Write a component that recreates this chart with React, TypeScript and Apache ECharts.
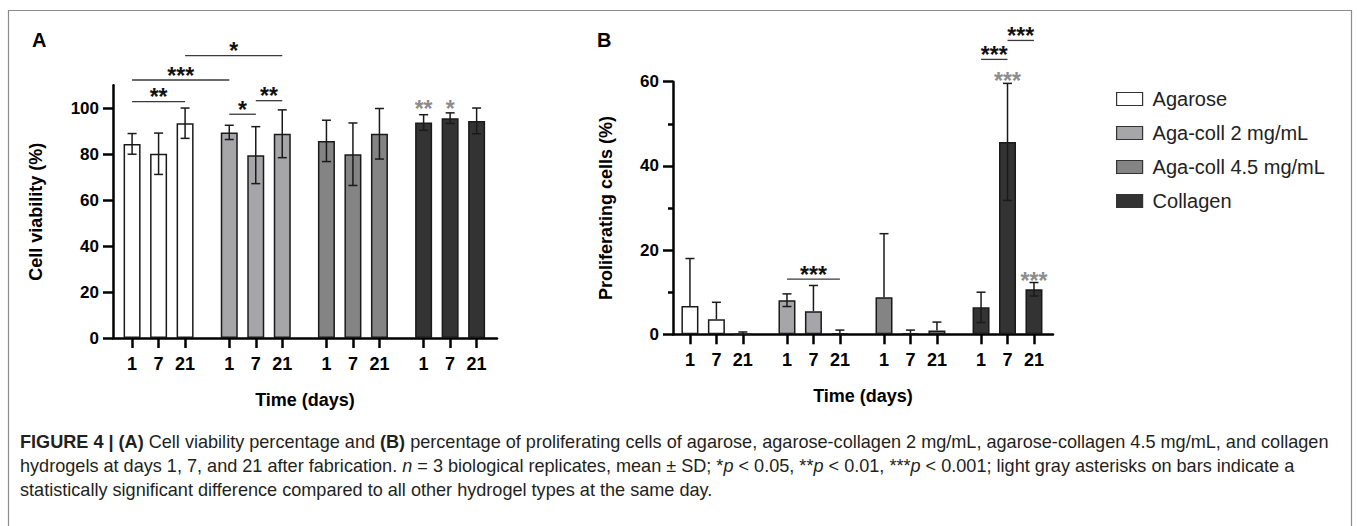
import React, { useEffect, useRef } from "react";
import * as echarts from "echarts";

const groups = ["Agarose", "Aga-coll 2 mg/mL", "Aga-coll 4.5 mg/mL", "Collagen"];
const days = ["1", "7", "21"];
const groupColors = ["#ffffff", "#a6a6a9", "#848484", "#333333"];

// Panel A: cell viability (%), mean and SD per group x day
const viabilityMean = [
  [84.5, 80.2, 93.5],
  [89.5, 79.6, 88.9],
  [85.8, 80.0, 88.9],
  [93.8, 95.7, 94.5],
];
const viabilitySD = [
  [4.5, 9.0, 6.6],
  [3.1, 12.4, 10.4],
  [9.0, 13.6, 11.0],
  [3.4, 2.3, 5.6],
];
// Panel B: proliferating cells (%)
const prolifMean = [
  [6.7, 3.6, 0.05],
  [8.1, 5.5, 0.3],
  [8.8, 0.3, 0.9],
  [6.4, 45.7, 10.7],
];
const prolifSD = [
  [11.3, 4.0, 0.5],
  [1.5, 6.1, 0.7],
  [15.1, 0.7, 2.0],
  [3.6, 13.9, 1.6],
];

// significance brackets: [from bar index, to bar index, y value], labels
const sigA = [
  [0, 2, 102.9],
  [0, 3, 112.3],
  [2, 5, 122.9],
  [3, 4, 97.4],
  [4, 5, 103.3],
];
const sigALabels = ["**", "***", "*", "*", "**"];
const grayA = [
  [9, 101.9],
  [10, 101.9],
];
const grayALabels = ["**", "*"];

const sigB = [
  [3, 5, 13.1],
  [9, 10, 65.3],
  [10, 11, 69.8],
];
const sigBLabels = ["***", "***", "***"];
const grayB = [
  [10, 61.4],
  [11, 13.9],
];
const grayBLabels = ["***", "***"];

const yTicksA = [0, 20, 40, 60, 80, 100];
const yTicksB = [0, 20, 40, 60];

const GROUP_STEP = 3.667;
const barPos = (i: number) => Math.floor(i / 3) * GROUP_STEP + (i % 3);
const positions = Array.from({ length: 12 }, (_, i) => barPos(i));

const FONT = "'Liberation Sans', Arial, Helvetica, sans-serif";

function dayLabel(v: number) {
  const i = positions.findIndex((p) => Math.abs(p - v) < 1e-6);
  return i >= 0 ? days[i % 3] : "";
}

function makeXAxis(gridIndex: number, min: number, max: number) {
  return {
    gridIndex,
    type: "value",
    min,
    max,
    axisLine: { show: true, onZero: false, lineStyle: { color: "#000", width: 2.5 } },
    axisTick: {
      show: true,
      customValues: positions,
      length: 10,
      lineStyle: { color: "#000", width: 2.5 },
    },
    axisLabel: {
      show: true,
      customValues: positions,
      formatter: (v: number) => dayLabel(v),
      fontSize: 18,
      fontWeight: "bold",
      color: "#000",
      fontFamily: FONT,
      margin: 17,
    },
    splitLine: { show: false },
    name: "Time (days)",
    nameLocation: "middle",
    nameGap: 53,
    nameTextStyle: { fontSize: 18, fontWeight: "bold", color: "#000", fontFamily: FONT },
  };
}

function makeYAxis(gridIndex: number, max: number, ticks: number[], name: string, nameGap: number, minor: boolean) {
  return {
    gridIndex,
    type: "value",
    min: 0,
    max,
    interval: 20,
    axisLine: { show: true, onZero: false, lineStyle: { color: "#000", width: 2.5 } },
    axisTick: { show: true, customValues: ticks, length: 10, lineStyle: { color: "#000", width: 2.5 } },
    minorTick: { show: minor, splitNumber: 2, length: 5, lineStyle: { color: "#000", width: 2.5 } },
    axisLabel: {
      show: true,
      customValues: ticks,
      fontSize: 17,
      fontWeight: "bold",
      color: "#000",
      fontFamily: FONT,
      margin: 14,
    },
    splitLine: { show: false },
    minorSplitLine: { show: false },
    name,
    nameLocation: "middle",
    nameGap,
    nameTextStyle: { fontSize: 18, fontWeight: "bold", color: "#000", fontFamily: FONT },
  };
}

function barSeries(idx: number, means: number[][]) {
  return groups.map((g, gi) => ({
    type: "bar",
    name: g,
    xAxisIndex: idx,
    yAxisIndex: idx,
    barWidth: 17,
    barGap: "-100%",
    z: 2,
    itemStyle: { color: groupColors[gi], borderColor: "#1a1a1a", borderWidth: 1.5 },
    data: means[gi].map((m, d) => [barPos(gi * 3 + d), m]),
  }));
}

function errorSeries(idx: number, means: number[][], sds: number[][]) {
  const data: number[][] = [];
  means.forEach((row, gi) => row.forEach((m, d) => data.push([barPos(gi * 3 + d), m, sds[gi][d]])));
  return {
    type: "custom",
    name: "err" + idx,
    xAxisIndex: idx,
    yAxisIndex: idx,
    z: 4,
    clip: false,
    encode: { x: 0, y: 1 },
    data,
    renderItem: (params: any, api: any) => {
      const x = api.value(0);
      const m = api.value(1);
      const sd = api.value(2);
      const top = api.coord([x, m + sd]);
      const mid = api.coord([x, m]);
      const lowV = m - sd;
      const low = lowV >= 0 ? api.coord([x, lowV]) : null;
      const st = { stroke: "#1a1a1a", lineWidth: 1.5 };
      const half = 4.5;
      const children: any[] = [
        { type: "line", shape: { x1: top[0], y1: top[1], x2: top[0], y2: low ? low[1] : mid[1] }, style: st },
        { type: "line", shape: { x1: top[0] - half, y1: top[1], x2: top[0] + half, y2: top[1] }, style: st },
      ];
      if (low) {
        children.push({ type: "line", shape: { x1: low[0] - half, y1: low[1], x2: low[0] + half, y2: low[1] }, style: st });
      }
      return { type: "group", children };
    },
  };
}

const STAR_SIZE = 23;

function bracketSeries(idx: number, sig: number[][], labels: string[]) {
  return {
    type: "custom",
    name: "sig" + idx,
    xAxisIndex: idx,
    yAxisIndex: idx,
    z: 5,
    clip: false,
    encode: { x: [0, 1], y: 2 },
    data: sig.map((s) => [barPos(s[0]), barPos(s[1]), s[2]]),
    renderItem: (params: any, api: any) => {
      const a = api.coord([api.value(0), api.value(2)]);
      const b = api.coord([api.value(1), api.value(2)]);
      return {
        type: "group",
        children: [
          { type: "line", shape: { x1: a[0], y1: a[1], x2: b[0], y2: b[1] }, style: { stroke: "#3a3a3a", lineWidth: 1.3 } },
          {
            type: "text",
            x: (a[0] + b[0]) / 2,
            y: a[1] - 4.5,
            style: {
              text: labels[params.dataIndex],
              fontSize: STAR_SIZE,
              fontWeight: "bold",
              fontFamily: FONT,
              fill: "#111",
              align: "center",
              verticalAlign: "middle",
            },
          },
        ],
      };
    },
  };
}

function graySeries(idx: number, pts: number[][], labels: string[]) {
  return {
    type: "custom",
    name: "gray" + idx,
    xAxisIndex: idx,
    yAxisIndex: idx,
    z: 5,
    clip: false,
    encode: { x: 0, y: 1 },
    data: pts.map((p) => [barPos(p[0]), p[1]]),
    renderItem: (params: any, api: any) => {
      const c = api.coord([api.value(0), api.value(1)]);
      return {
        type: "text",
        x: c[0],
        y: c[1] + 5,
        style: {
          text: labels[params.dataIndex],
          fontSize: STAR_SIZE,
          fontWeight: "bold",
          fontFamily: FONT,
          fill: "#8c8c8c",
          align: "center",
          verticalAlign: "middle",
        },
      };
    },
  };
}

export default function App() {
  const ref = useRef<HTMLDivElement>(null);
  useEffect(() => {
    if (!ref.current) return;
    const chart = echarts.init(ref.current, undefined, { renderer: "svg" });
    const CAP = 18.1;
    const captionStyle = { fontSize: CAP, fontFamily: FONT, fill: "#231f20" };
    const rich = {
      b: { fontSize: CAP, fontFamily: FONT, fontWeight: "bold", fill: "#231f20" },
      i: { fontSize: CAP, fontFamily: FONT, fontStyle: "italic", fill: "#231f20" },
    };
    chart.setOption({
      animation: false,
      backgroundColor: "#ffffff",
      grid: [
        { left: 113, top: 85.3, width: 384, height: 252.7 },
        { left: 673, top: 81.7, width: 380, height: 252.6 },
      ],
      xAxis: [makeXAxis(0, -0.72, 13.77), makeXAxis(1, -0.64, 13.72)],
      yAxis: [
        makeYAxis(0, 110, yTicksA, "Cell viability (%)", 68, false),
        makeYAxis(1, 60, yTicksB, "Proliferating cells (%)", 58, true),
      ],
      legend: {
        orient: "vertical",
        left: 1111,
        top: 84,
        icon: "rect",
        itemWidth: 26,
        itemHeight: 13,
        itemGap: 14,
        selectedMode: false,
        textStyle: { fontSize: 20, color: "#222", fontFamily: FONT, padding: [0, 0, 0, 5] },
        data: groups.map((g, gi) => ({
          name: g,
          itemStyle: { color: groupColors[gi], borderColor: "#333", borderWidth: 1.2 },
        })),
      },
      graphic: [
        {
          type: "rect",
          shape: { x: 8.5, y: 10.5, width: 1343, height: 560 },
          style: { fill: "none", stroke: "#8c8c8c", lineWidth: 1.2 },
          silent: true,
        },
        { type: "text", x: 32, y: 40, style: { text: "A", fontSize: 20, fontWeight: "bold", fontFamily: FONT, fill: "#000", verticalAlign: "middle" } },
        { type: "text", x: 597, y: 40, style: { text: "B", fontSize: 20, fontWeight: "bold", fontFamily: FONT, fill: "#000", verticalAlign: "middle" } },
        {
          type: "text",
          x: 20,
          y: 442,
          style: {
            ...captionStyle,
            verticalAlign: "middle",
            text: "{b|FIGURE 4 | (A)} Cell viability percentage and {b|(B)} percentage of proliferating cells of agarose, agarose-collagen 2 mg/mL, agarose-collagen 4.5 mg/mL, and collagen",
            rich,
          },
        },
        {
          type: "text",
          x: 20,
          y: 466,
          style: {
            ...captionStyle,
            verticalAlign: "middle",
            text: "hydrogels at days 1, 7, and 21 after fabrication. {i|n} = 3 biological replicates, mean ± SD; *{i|p} < 0.05, **{i|p} < 0.01, ***{i|p} < 0.001; light gray asterisks on bars indicate a",
            rich,
          },
        },
        {
          type: "text",
          x: 20,
          y: 490,
          style: {
            ...captionStyle,
            verticalAlign: "middle",
            text: "statistically significant difference compared to all other hydrogel types at the same day.",
            rich,
          },
        },
      ],
      series: [
        ...barSeries(0, viabilityMean),
        ...barSeries(1, prolifMean),
        errorSeries(0, viabilityMean, viabilitySD),
        errorSeries(1, prolifMean, prolifSD),
        bracketSeries(0, sigA, sigALabels),
        bracketSeries(1, sigB, sigBLabels),
        graySeries(0, grayA, grayALabels),
        graySeries(1, grayB, grayBLabels),
      ],
    });
    return () => chart.dispose();
  }, []);
  return (
    <div
      ref={ref}
      style={{ position: "absolute", left: 0, top: 0, width: 1357, height: 526, background: "#fff" }}
    />
  );
}
